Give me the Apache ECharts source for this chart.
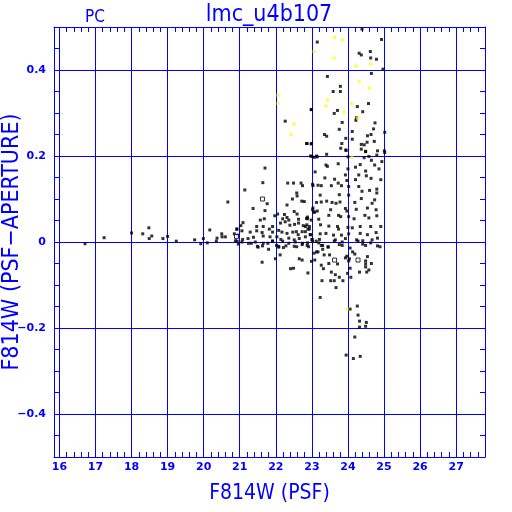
<!DOCTYPE html>
<html lang="en">
<head>
  <meta charset="UTF-8" />
  <title>lmc_u4b107</title>
  <script src="https://cdn.jsdelivr.net/npm/echarts@6.0.0/dist/echarts.min.js"></script>
  <style>
    html, body { margin: 0; padding: 0; background: #fff; }
    #chart { width: 512px; height: 512px; }
  </style>
</head>
<body>
  <div id="chart"></div>
  <script>
    // tick labels
    var xLabels = [16, 17, 18, 19, 20, 21, 22, 23, 24, 25, 26, 27];
    var yLabels = [-0.4, -0.2, 0, 0.2, 0.4];

    // stars, black = normal, yellow = flagged, hollow = open boxes
    var blackPoints = [
      [16.71,-0.004],[17.24,0.01],[18.0,0.021],[18.31,0.019],[18.48,0.033],[18.49,0.008],[18.56,0.014],
      [18.87,0.008],[19.0,0.013],[19.24,0.002],[19.75,0.005],[19.92,-0.004],[19.99,0.008],[20.1,-0.002],
      [20.17,0.028],[20.35,0.002],[20.37,0.009],[20.5,0.019],[20.51,0.012],[20.6,0.012],[20.67,0.093],
      [20.85,0.019],[20.92,0.03],[20.88,0.003],[20.96,-0.005],
      [22.99,0.308],[22.26,0.281],[22.85,0.229],[22.99,0.229],[23.07,0.197],[23.09,0.163],[21.7,0.172],
      [23.03,0.131],[21.14,0.121],[21.64,0.138],[22.33,0.137],[22.49,0.137],[22.7,0.137],[22.74,0.131],
      [22.58,0.114],[22.59,0.107],[22.46,0.1],[22.72,0.095],[21.76,0.089],[22.31,0.086],[22.79,0.094],
      [21.37,0.078],[21.7,0.073],[22.51,0.071],[22.59,0.065],[23.03,0.079],[23.06,0.069],[21.97,0.061],
      [22.05,0.065],[22.24,0.064],[21.68,0.054],[21.57,0.051],[22.19,0.054],[22.31,0.057],[22.36,0.051],
      [22.63,0.053],[22.85,0.055],[22.88,0.058],[22.98,0.051],[21.09,0.045],[21.47,0.036],[21.65,0.036],
      [21.91,0.036],[22.13,0.044],[22.26,0.047],[22.39,0.039],[22.52,0.041],[22.63,0.044],[22.76,0.038],
      [22.86,0.04],[22.93,0.036],[21.03,0.038],[20.92,0.03],[20.95,0.016],[21.06,0.026],[21.29,0.023],
      [21.47,0.026],[21.62,0.022],[21.82,0.03],[21.91,0.023],[22.08,0.027],[22.17,0.023],[22.31,0.02],
      [22.47,0.023],[22.57,0.024],[22.62,0.017],[22.73,0.024],[22.82,0.024],[22.89,0.03],[22.97,0.017],
      [21.08,0.006],[21.23,0.008],[21.38,0.011],[21.65,0.014],[21.84,0.012],[22.03,0.012],[22.14,0.006],
      [22.36,0.009],[22.51,0.005],[22.65,0.008],[22.82,0.012],[23.01,0.006],[20.93,0.002],[21.32,-0.003],
      [21.49,-0.01],[21.65,-0.003],[21.78,-0.003],[21.91,0.002],[22.08,-0.01],[22.21,-0.013],[22.36,-0.003],
      [22.51,-0.01],[22.74,-0.003],[22.87,-0.008],[23.02,0.001],
      [23.15,0.465],[24.39,0.495],[24.93,0.471],[24.31,0.439],[24.37,0.435],[24.62,0.443],[24.63,0.428],
      [24.79,0.425],[24.97,0.402],[24.65,0.392],[23.43,0.385],[23.79,0.362],[23.59,0.35],[23.79,0.35],
      [24.57,0.322],[24.26,0.315],[24.41,0.303],[23.71,0.306],[23.62,0.299],[22.98,0.308],[24.24,0.289],
      [24.22,0.283],[23.84,0.278],[24.75,0.277],[24.71,0.263],[23.76,0.262],[24.12,0.257],[25.02,0.255],
      [23.35,0.25],[23.41,0.246],[23.94,0.241],[24.54,0.247],[24.64,0.25],[24.12,0.239],[24.73,0.234],
      [23.83,0.229],[24.37,0.227],[24.45,0.226],[24.53,0.232],[22.87,0.229],[22.98,0.228],[23.8,0.218],
      [23.94,0.214],[24.37,0.216],[24.49,0.21],[24.82,0.212],[25.01,0.212],[23.41,0.204],[23.13,0.2],
      [22.96,0.2],
      [23.0,0.199],[23.15,0.198],[23.95,0.213],[24.0,0.198],[24.45,0.196],[24.58,0.199],[24.8,0.202],
      [25.02,0.208],[24.49,0.211],[23.39,0.179],[23.43,0.176],[23.73,0.182],[24.0,0.17],[24.21,0.174],
      [24.34,0.18],[24.65,0.19],[24.74,0.179],[24.94,0.187],[24.49,0.165],[24.51,0.154],[24.86,0.17],
      [23.36,0.149],[23.63,0.146],[23.73,0.137],[23.93,0.156],[23.97,0.143],[24.21,0.145],[24.3,0.156],
      [24.64,0.148],[24.91,0.145],[23.02,0.134],[23.17,0.132],[23.26,0.131],[23.54,0.131],[23.82,0.131],
      [24.02,0.129],[24.3,0.129],[24.8,0.123],[24.39,0.118],[24.6,0.12],[23.23,0.109],[23.76,0.11],
      [24.02,0.109],[24.8,0.114],[23.13,0.092],[23.41,0.095],[23.56,0.092],[23.67,0.09],[23.78,0.093],
      [24.19,0.092],[24.37,0.101],[24.67,0.09],[24.74,0.098],[23.26,0.093],[23.02,0.075],[23.08,0.07],
      [23.15,0.072],[23.52,0.075],[23.93,0.078],[23.97,0.072],[24.23,0.076],[24.54,0.079],[24.78,0.075],
      [22.88,0.054],[23.19,0.053],[23.47,0.062],[23.74,0.062],[23.8,0.059],[24.02,0.059],[24.17,0.054],
      [24.47,0.062],[24.58,0.056],[24.8,0.061],[22.82,0.036],[22.93,0.03],[23.24,0.04],[23.47,0.037],
      [23.71,0.036],[23.74,0.03],[24.0,0.034],[24.12,0.033],[24.34,0.036],[24.63,0.036],[24.91,0.036],
      [22.95,0.017],[23.23,0.019],[23.39,0.02],[23.6,0.016],[23.82,0.016],[24.02,0.019],[24.34,0.02],
      [24.54,0.017],[24.78,0.022],[23.0,0.005],[23.21,0.006],[23.65,0.005],[23.93,0.008],[24.24,0.005],
      [24.41,0.003],[24.67,0.005],[24.82,0.009],[23.26,-0.008],[23.45,-0.012],[23.84,-0.008],[24.06,-0.014],
      [24.89,-0.011],
      [21.06,0.0],[21.24,-0.003],[21.43,0.0],[21.51,-0.012],[21.63,-0.009],[21.8,-0.017],[21.91,0.002],
      [22.02,-0.008],[22.08,-0.012],[22.19,0.002],[22.28,-0.009],[22.54,0.0],[22.58,-0.011],[22.73,-0.006],
      [22.88,-0.002],[22.91,-0.011],[23.12,0.002],[23.19,-0.002],[23.3,-0.008],[23.45,-0.011],[23.62,0.002],
      [23.76,-0.006],[23.84,0.0],[24.28,0.002],[24.41,-0.005],[24.49,-0.008],[24.63,-0.002],[24.82,-0.009],
      [23.13,-0.023],[23.06,-0.026],[23.3,-0.017],[23.34,-0.03],[23.49,-0.03],[21.62,-0.047],[21.99,-0.039],
      [22.12,-0.03],[22.41,-0.062],[22.49,-0.061],[22.65,-0.039],[22.73,-0.042],[22.89,-0.072],[22.99,-0.045],
      [23.08,-0.042],[23.17,-0.023],[23.26,-0.054],[23.32,-0.062],[23.47,-0.05],[23.71,-0.051],
      [23.54,-0.07],[23.65,-0.076],[23.76,-0.082],[23.86,-0.09],[23.93,-0.037],[23.97,-0.033],[24.04,-0.039],
      [24.13,-0.023],[24.19,-0.028],[24.02,-0.044],[24.06,-0.061],[23.99,-0.073],[24.08,-0.082],[24.32,-0.07],
      [24.49,-0.044],[24.49,-0.051],[24.49,-0.058],[24.54,-0.034],[24.58,-0.065],[24.52,-0.07],[24.65,-0.05],
      [23.62,-0.09],[23.52,-0.09],[23.28,-0.09],[23.67,-0.106],[23.23,-0.129],[24.06,-0.156],[24.26,-0.149],
      [24.28,-0.17],[24.32,-0.184],[24.51,-0.187],[24.49,-0.196],[24.32,-0.198],[24.19,-0.221],[23.95,-0.263],
      [24.15,-0.271],[24.34,-0.266]
    ];
    var yellowPoints = [
      [22.06,0.341],[22.06,0.322],[22.5,0.274],[22.42,0.25],[23.63,0.476],[23.84,0.47],[23.06,0.443],
      [23.62,0.428],[24.23,0.409],[24.62,0.414],[24.31,0.373],[24.59,0.358],[23.43,0.33],[23.39,0.316],
      [24.1,0.322],[23.88,0.302],[24.27,0.288],[24.11,0.196],[23.98,-0.156]
    ];
    var hollowPoints = [[20.91,0.013],[21.63,0.1],[23.63,-0.042],[24.28,-0.042]];

    var blue = '#0000ff';
    var xMin = 15.85, xMax = 27.8, yMin = -0.5, yMax = 0.5;

    // small tick positions
    var xMinor = [];
    for (var i = 0; i <= 59; i++) xMinor.push(Math.round((16 + i * 0.2) * 100) / 100);
    var yMinor = [];
    for (var j = 0; j <= 19; j++) yMinor.push(Math.round((-0.45 + j * 0.05) * 1000) / 1000);

    var font = 'DejaVu Sans';
    var titleFont = 'DejaVu Sans Condensed';

    function baseX(pos) {
      return {
        type: 'value', position: pos, min: xMin, max: xMax,
        axisLine: { show: true, onZero: false, lineStyle: { color: blue, width: 1 } },
        axisTick: { show: true, inside: true, length: 5, customValues: xMinor, lineStyle: { color: blue } },
        axisLabel: { show: false },
        splitLine: { show: false }
      };
    }
    function baseY(pos) {
      return {
        type: 'value', position: pos, min: yMin, max: yMax,
        axisLine: { show: true, onZero: false, lineStyle: { color: blue, width: 1 } },
        axisTick: { show: true, inside: true, length: 5, customValues: yMinor, lineStyle: { color: blue } },
        axisLabel: { show: false },
        splitLine: { show: false }
      };
    }

    var xBottom = baseX('bottom');
    xBottom.axisLabel = {
      show: true, customValues: xLabels, color: blue, fontFamily: font,
      fontWeight: 'bold', fontSize: 11, margin: 5
    };
    xBottom.name = 'F814W (PSF)';
    xBottom.nameLocation = 'middle';
    xBottom.nameGap = 26;
    xBottom.nameMoveOverlap = false;
    xBottom.nameTextStyle = { color: blue, fontFamily: titleFont, fontSize: 21 };

    var xGrid = {
      type: 'value', position: 'bottom', min: xMin, max: xMax,
      axisLine: { show: false }, axisLabel: { show: false },
      axisTick: { show: false, customValues: xLabels },
      splitLine: { show: true, lineStyle: { color: blue, width: 1 } }
    };

    var yLeft = baseY('left');
    yLeft.axisLabel = {
      show: true, customValues: yLabels, color: blue, fontFamily: font,
      fontWeight: 'bold', fontSize: 11, margin: 8,
      formatter: function (v) { return v === 0 ? '0' : (v < 0 ? '\u2212' + (-v) : String(v)); }
    };
    yLeft.name = 'F814W (PSF\u2212APERTURE)';
    yLeft.nameLocation = 'middle';
    yLeft.nameGap = 30;
    yLeft.nameRotate = 90;
    yLeft.nameMoveOverlap = false;
    yLeft.nameTextStyle = { color: blue, fontFamily: titleFont, fontSize: 23 };

    var yGrid = {
      type: 'value', position: 'left', min: yMin, max: yMax,
      axisLine: { show: false }, axisLabel: { show: false },
      axisTick: { show: false, customValues: yLabels },
      splitLine: { show: true, lineStyle: { color: blue, width: 1 } }
    };

    var chart = echarts.init(document.getElementById('chart'), null, { renderer: 'canvas' });
    chart.setOption({
      animation: false,
      backgroundColor: '#fff',
      grid: { left: 54, right: 27, top: 27, bottom: 55, containLabel: false, outerBoundsMode: 'none' },
      xAxis: [xBottom, baseX('top'), xGrid],
      yAxis: [yLeft, baseY('right'), yGrid],
      graphic: [
        { type: 'text', x: 269, y: 15, style: { text: 'lmc_u4b107', fill: blue, font: '23px "' + titleFont + '"', align: 'center', verticalAlign: 'middle' } },
        { type: 'text', x: 95, y: 18, style: { text: 'PC', fill: blue, font: '17px "' + titleFont + '"', align: 'center', verticalAlign: 'middle' } }
      ],
      series: [
        {
          type: 'scatter', xAxisIndex: 0, yAxisIndex: 0, data: blackPoints,
          symbol: 'rect', symbolSize: 3, itemStyle: { color: '#000' }, silent: true
        },
        {
          type: 'scatter', xAxisIndex: 0, yAxisIndex: 0, data: yellowPoints,
          symbol: 'rect', symbolSize: 3, itemStyle: { color: '#ffff00' }, silent: true
        },
        {
          type: 'scatter', xAxisIndex: 0, yAxisIndex: 0, data: hollowPoints,
          symbol: 'rect', symbolSize: 4, itemStyle: { color: '#fff', borderColor: '#000', borderWidth: 1 }, silent: true
        }
      ]
    });
  </script>
</body>
</html>
